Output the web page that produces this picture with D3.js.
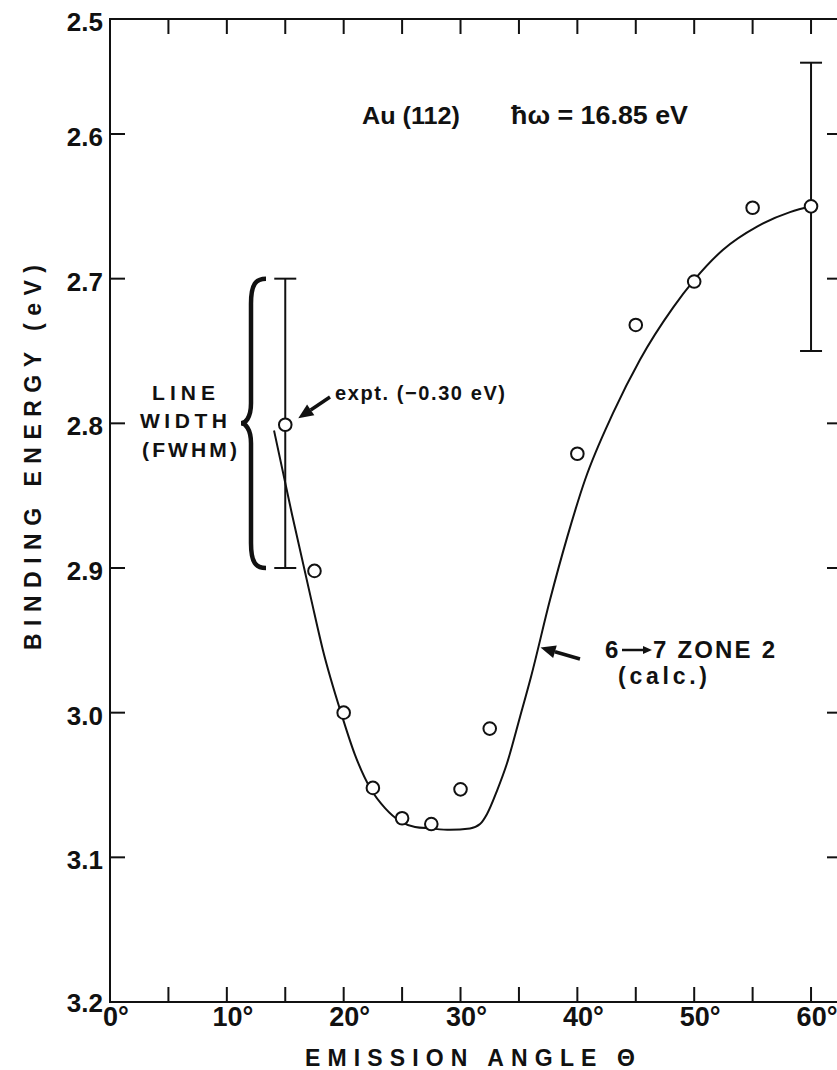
<!DOCTYPE html>
<html>
<head>
<meta charset="utf-8">
<script src="https://cdn.jsdelivr.net/npm/d3@7"></script>
<style>
  html, body { margin: 0; padding: 0; background: #fff; }
  svg { display: block; }
  text { font-family: "Liberation Sans", Arial, Helvetica, sans-serif; font-weight: bold; fill: #111; }
</style>
</head>
<body>
<div id="chart"></div>
<script>
// ---- data ----
const xTickValues = [0, 10, 20, 30, 40, 50, 60];
const xMinorTicks = [0, 5, 10, 15, 20, 25, 30, 35, 40, 45, 50, 55, 60];
const yTickValues = [2.5, 2.6, 2.7, 2.8, 2.9, 3.0, 3.1, 3.2];

// experimental points (angle deg, binding energy eV)
const exptAngle  = [15, 17.5, 20, 22.5, 25, 27.5, 30, 32.5, 40, 45, 50, 55, 60];
const exptEnergy = [2.801, 2.902, 3.0, 3.052, 3.073, 3.077, 3.053, 3.011, 2.821, 2.732, 2.702, 2.651, 2.650];

// error bars (line width FWHM)
const errAngle = [15, 60];
const errLow   = [2.70, 2.538];
const errHigh  = [2.90, 2.75];

// calculated curve 6->7 zone 2
const calcAngle  = [14.04, 15.58, 17.20, 18.23, 19.77, 20.96, 22.33, 23.54, 24.82, 26.11, 27.39, 29.10, 30.81, 31.67, 32.27, 33.12, 33.98, 35.09, 36.04, 37.66, 39.12, 40.66, 43.05, 45.36, 48.19, 49.99, 52.47, 55.38, 58.20, 60.09];
const calcEnergy = [2.805, 2.863, 2.921, 2.957, 3.000, 3.029, 3.053, 3.066, 3.075, 3.079, 3.080, 3.081, 3.080, 3.077, 3.070, 3.054, 3.035, 3.003, 2.975, 2.922, 2.879, 2.839, 2.793, 2.756, 2.720, 2.701, 2.680, 2.664, 2.654, 2.650];

// ---- layout ----
const W = 837, H = 1070;
const svg = d3.select("#chart").append("svg").attr("width", W).attr("height", H);

const x = d3.scaleLinear().domain([0, 62.65]).range([110, 842]);
const y = d3.scaleLinear().domain([2.5, 2.6, 3.2]).range([19, 134, 1002]);

const ink = "#111";
const pL = x(0), pR = x(62.65), pT = y(2.5), pB = y(3.2);

// frame
svg.append("rect").attr("x", pL).attr("y", pT).attr("width", pR - pL).attr("height", pB - pT)
  .attr("fill", "none").attr("stroke", ink).attr("stroke-width", 2);

// ticks (inward)
const tl = 15;
const tg = svg.append("g").attr("stroke", ink).attr("stroke-width", 2);
xMinorTicks.filter(d => d > 0).forEach(d => {
  tg.append("line").attr("x1", x(d)).attr("x2", x(d)).attr("y1", pB).attr("y2", pB - tl);
  tg.append("line").attr("x1", x(d)).attr("x2", x(d)).attr("y1", pT).attr("y2", pT + tl);
});
yTickValues.filter(d => d > 2.5 && d < 3.2).forEach(d => {
  tg.append("line").attr("x1", pL).attr("x2", pL + tl).attr("y1", y(d)).attr("y2", y(d));
  tg.append("line").attr("x1", pR).attr("x2", pR - tl).attr("y1", y(d)).attr("y2", y(d));
});

// y tick labels
svg.append("g").selectAll("text").data(yTickValues).join("text")
  .attr("x", pL - 7).attr("y", d => y(d) + (d === 3.2 ? 10 : 12))
  .attr("text-anchor", "end").attr("font-size", 26)
  .text(d => d.toFixed(1));

// x tick labels
svg.append("g").selectAll("text").data(xTickValues).join("text")
  .attr("x", d => x(d) + 6).attr("y", 1026)
  .attr("text-anchor", "middle").attr("font-size", 27)
  .text(d => d + "°");

// axis titles
svg.append("text").attr("x", 305).attr("y", 1066)
  .attr("font-size", 23).attr("textLength", 330).attr("lengthAdjust", "spacing").text("EMISSION  ANGLE Θ");
svg.append("text").attr("transform", "translate(41,650) rotate(-90)")
  .attr("font-size", 23).attr("textLength", 385).attr("lengthAdjust", "spacing").text("BINDING  ENERGY (eV)");

// calculated curve
const line = d3.line().x((d, i) => x(calcAngle[i])).y((d, i) => y(calcEnergy[i])).curve(d3.curveMonotoneX);
svg.append("path").datum(calcAngle).attr("d", line)
  .attr("fill", "none").attr("stroke", ink).attr("stroke-width", 2);

// error bars
const eg = svg.append("g").attr("stroke", ink).attr("stroke-width", 2);
errAngle.forEach((a, i) => {
  eg.append("line").attr("x1", x(a)).attr("x2", x(a)).attr("y1", y(errLow[i])).attr("y2", y(errHigh[i]));
  eg.append("line").attr("x1", x(a) - 11).attr("x2", x(a) + 11).attr("y1", y(errLow[i])).attr("y2", y(errLow[i]));
  eg.append("line").attr("x1", x(a) - 11).attr("x2", x(a) + 11).attr("y1", y(errHigh[i])).attr("y2", y(errHigh[i]));
});

// experimental points
svg.append("g").selectAll("circle").data(exptAngle).join("circle")
  .attr("cx", d => x(d)).attr("cy", (d, i) => y(exptEnergy[i])).attr("r", 6.3)
  .attr("fill", "#fff").attr("stroke", ink).attr("stroke-width", 2);

// annotations
svg.append("text").attr("x", 362).attr("y", 124).attr("font-size", 24)
  .attr("textLength", 98).attr("lengthAdjust", "spacingAndGlyphs").text("Au (112)");
svg.append("text").attr("x", 511).attr("y", 124).attr("font-size", 26)
  .attr("textLength", 177).attr("lengthAdjust", "spacingAndGlyphs").text("ħω = 16.85 eV");

// arrow helper
function arrow(x1, y1, x2, y2, L = 15, Wd = 6.5, sw = 3.5) {
  const ang = Math.atan2(y2 - y1, x2 - x1);
  const bx = x2 - L * Math.cos(ang), by = y2 - L * Math.sin(ang);
  svg.append("line").attr("x1", x1).attr("y1", y1).attr("x2", bx).attr("y2", by)
    .attr("stroke", ink).attr("stroke-width", sw);
  const p = [[x2, y2],
    [bx + Wd * Math.sin(ang), by - Wd * Math.cos(ang)],
    [bx - Wd * Math.sin(ang), by + Wd * Math.cos(ang)]];
  svg.append("path").attr("d", "M" + p.map(q => q.join(",")).join("L") + "Z").attr("fill", ink);
}

arrow(330, 397, x(15) + 13, y(2.80) - 5);
svg.append("text").attr("x", 335).attr("y", 400).attr("font-size", 20)
  .attr("textLength", 170).attr("lengthAdjust", "spacing").text("expt. (−0.30 eV)");

arrow(580, 659, x(36.85), y(2.955));
svg.append("text").attr("x", 605).attr("y", 658).attr("font-size", 24).text("6");
arrow(622, 650, 652, 650, 9, 4, 2.5);
svg.append("text").attr("x", 653).attr("y", 658).attr("font-size", 24)
  .attr("textLength", 122).attr("lengthAdjust", "spacing").text("7  ZONE 2");
svg.append("text").attr("x", 618).attr("y", 684).attr("font-size", 23)
  .attr("textLength", 89).attr("lengthAdjust", "spacing").text("(calc.)");

// line width brace
const by1 = y(2.70), by2 = y(2.90), bm = y(2.80), bxr = 266, bxl = 241;
svg.append("path")
  .attr("d", `M${bxr},${by1} C${bxr-10},${by1} ${bxl+10},${by1+5} ${bxl+10},${by1+25} L${bxl+10},${bm-20} C${bxl+10},${bm-5} ${bxl+4},${bm} ${bxl},${bm} C${bxl+4},${bm} ${bxl+10},${bm+5} ${bxl+10},${bm+20} L${bxl+10},${by2-25} C${bxl+10},${by2-5} ${bxr-10},${by2} ${bxr},${by2}`)
  .attr("fill", "none").attr("stroke", ink).attr("stroke-width", 4.5);
svg.append("text").attr("x", 152).attr("y", 400).attr("font-size", 21)
  .attr("textLength", 63).attr("lengthAdjust", "spacing").text("LINE");
svg.append("text").attr("x", 140).attr("y", 428).attr("font-size", 21)
  .attr("textLength", 87).attr("lengthAdjust", "spacing").text("WIDTH");
svg.append("text").attr("x", 142).attr("y", 457).attr("font-size", 21)
  .attr("textLength", 95).attr("lengthAdjust", "spacing").text("(FWHM)");
</script>
</body>
</html>
